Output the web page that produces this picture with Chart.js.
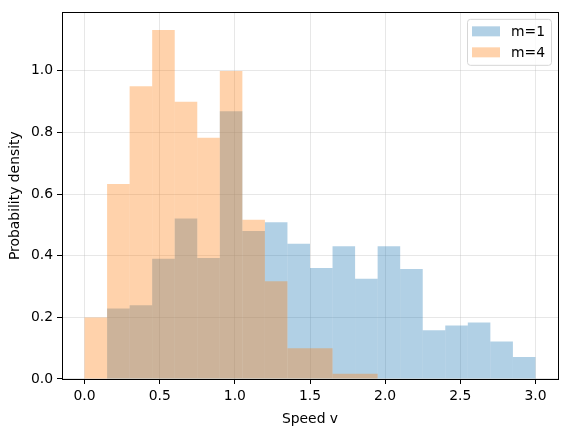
<!DOCTYPE html>
<html>
<head>
<meta charset="utf-8">
<script src="https://cdn.jsdelivr.net/npm/chart.js@4.4.1/dist/chart.umd.min.js"></script>
<style>
  html, body { margin: 0; padding: 0; background: #fff; }
  #wrap { width: 567px; height: 432px; }
</style>
</head>
<body>
<div id="wrap"><canvas id="canvas_1"></canvas></div>
<script>
// bin centres, bins are 0.15 wide from 0 to 3
let binCenters = [0.075, 0.225, 0.375, 0.525, 0.675, 0.825, 0.975, 1.125, 1.275, 1.425,
                  1.575, 1.725, 1.875, 2.025, 2.175, 2.325, 2.475, 2.625, 2.775, 2.925];
let densityM1 = [0, 0.229, 0.239, 0.390, 0.521, 0.393, 0.869, 0.480, 0.509, 0.439,
                 0.360, 0.431, 0.325, 0.431, 0.357, 0.158, 0.174, 0.183, 0.122, 0.071];
let densityM4 = [0.200, 0.633, 0.950, 1.133, 0.900, 0.783, 1.000, 0.517, 0.317, 0.100,
                 0.100, 0.017, 0.017, 0, 0, 0, 0, 0, 0, 0];
let xTicks = [0.0, 0.5, 1.0, 1.5, 2.0, 2.5, 3.0];
let yTicks = [0.0, 0.2, 0.4, 0.6, 0.8, 1.0];

const FONT = { family: "'DejaVu Sans', sans-serif", size: 13.9 };

function toPoints(vals) {
  return binCenters.map((x, i) => ({ x: x, y: vals[i] }));
}

// box round the plot and a legend inside it, like matplotlib
const framePlugin = {
  id: 'frame',
  afterDraw(chart) {
    const ctx = chart.ctx;
    const a = chart.chartArea;
    ctx.save();
    ctx.strokeStyle = '#000';
    ctx.lineWidth = 1;
    ctx.strokeRect(Math.round(a.left) + 0.5, Math.round(a.top) + 0.5,
                   Math.round(a.right - a.left), Math.round(a.bottom - a.top));

    // legend, in the order the series were added
    const x0 = a.right - 91, y0 = a.top + 6.5, w = 84, h = 46;
    ctx.fillStyle = 'rgba(255,255,255,0.8)';
    ctx.strokeStyle = '#d6d6d6';
    ctx.beginPath();
    ctx.roundRect(x0 + 0.5, y0 + 0.5, w, h, 3);
    ctx.fill();
    ctx.stroke();
    ctx.font = FONT.size + 'px ' + FONT.family;
    ctx.textBaseline = 'middle';
    chart.data.datasets.forEach((ds, i) => {
      const cy = y0 + 12.5 + i * 21;
      ctx.fillStyle = ds.backgroundColor;
      ctx.fillRect(x0 + 5, cy - 5, 28, 10);
      ctx.fillStyle = '#000';
      ctx.fillText(ds.label, x0 + 44, cy + 1);
    });
    ctx.restore();
  }
};

let canvas = document.getElementById("canvas_1");
let ctx = canvas.getContext('2d');
let chart = new Chart(ctx, {
  type: 'bar',
  data: {
    datasets: [{
      label: 'm=1',
      data: toPoints(densityM1),
      backgroundColor: 'rgba(31, 119, 180, 0.35)',
      order: 2,           // drawn first, under m=4
      borderWidth: 0,
      inflateAmount: 0,
      barPercentage: 1,
      categoryPercentage: 1,
      grouped: false
    }, {
      label: 'm=4',
      data: toPoints(densityM4),
      backgroundColor: 'rgba(255, 127, 14, 0.35)',
      order: 1,
      borderWidth: 0,
      inflateAmount: 0,
      barPercentage: 1,
      categoryPercentage: 1,
      grouped: false
    }]
  },
  options: {
    responsive: true,
    maintainAspectRatio: false,
    animation: false,
    layout: { padding: { top: 9, right: 9, left: 0, bottom: 0 } },
    plugins: {
      legend: { display: false },
      tooltip: { enabled: false }
    },
    scales: {
      x: {
        type: 'linear',
        offset: false,
        min: -0.15,
        max: 3.15,
        afterBuildTicks: s => { s.ticks = xTicks.map(v => ({ value: v })); },
        afterFit: s => { s.height = 53; },
        grid: { offset: false, color: 'rgba(176,176,176,0.3)', tickColor: '#000', tickLength: 5 },
        border: { display: false },
        ticks: { font: FONT, color: '#000', padding: 4, maxRotation: 0,
                 callback: v => v.toFixed(1) },
        title: { display: true, text: 'Speed v', font: FONT, color: '#000',
                 padding: { top: 0, bottom: 4 } }
      },
      y: {
        min: 0,
        max: 1.19,
        afterBuildTicks: s => { s.ticks = yTicks.map(v => ({ value: v })); },
        afterFit: s => { s.width = 62; },
        grid: { offset: false, color: 'rgba(176,176,176,0.3)', tickColor: '#000', tickLength: 5 },
        border: { display: false },
        ticks: { font: FONT, color: '#000', padding: 4,
                 callback: v => v.toFixed(1) },
        title: { display: true, text: 'Probability density', font: FONT, color: '#000',
                 padding: { top: 7, bottom: 0 } }
      }
    }
  },
  plugins: [framePlugin]
});
</script>
</body>
</html>
